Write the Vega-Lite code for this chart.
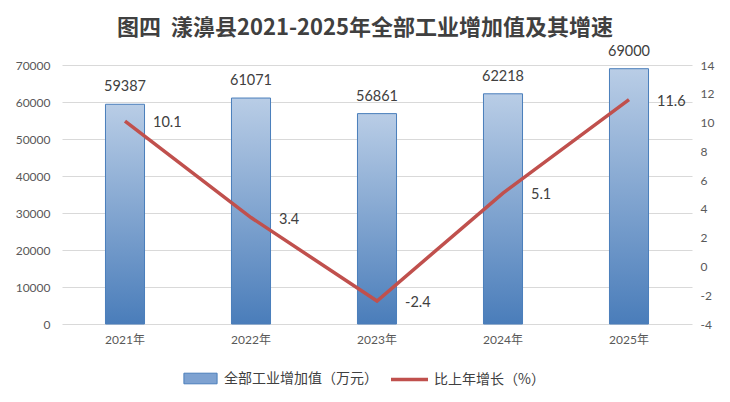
{
  "$schema": "https://vega.github.io/schema/vega-lite/v6.json",
  "width": 630,
  "height": 259,
  "autosize": {"type": "none"},
  "padding": {"left": 62, "top": 65, "right": 38, "bottom": 78},
  "background": "white",
  "config": {"view": {"stroke": null}},
  "title": {
    "text": "图四\u00a0\u00a0漾濞县2021-2025年全部工业增加值及其增速",
    "font": "Noto Sans CJK SC",
    "fontSize": 22,
    "fontWeight": "bold",
    "color": "#404040",
    "anchor": "middle",
    "dx": -12,
    "offset": 4
  },
  "data": {
    "values": [
      {"year": "2021年", "value": 59387, "growth": 10.1},
      {"year": "2022年", "value": 61071, "growth": 3.4},
      {"year": "2023年", "value": 56861, "growth": -2.4},
      {"year": "2024年", "value": 62218, "growth": 5.1},
      {"year": "2025年", "value": 69000, "growth": 11.6}
    ]
  },
  "encoding": {
    "x": {
      "field": "year",
      "type": "nominal",
      "sort": null,
      "scale": {"paddingInner": 0.69, "paddingOuter": 0.345},
      "axis": {
        "title": null,
        "labelAngle": 0,
        "domain": false,
        "ticks": false,
        "grid": false,
        "labelFont": "Lato, Noto Sans CJK SC",
        "labelFontSize": 12,
        "labelColor": "#595959",
        "labelPadding": 10
      }
    }
  },
  "layer": [
    {
      "mark": {
        "type": "bar",
        "fill": {
          "gradient": "linear",
          "x1": 0, "y1": 0, "x2": 0, "y2": 1,
          "stops": [
            {"offset": 0, "color": "#B9CDE6"},
            {"offset": 1, "color": "#4A7DBA"}
          ]
        },
        "stroke": "#4A7EBB",
        "strokeWidth": 1
      },
      "encoding": {
        "y": {
          "field": "value",
          "type": "quantitative",
          "scale": {"domain": [0, 70000]},
          "axis": {
            "title": null,
            "orient": "left",
            "values": [0, 10000, 20000, 30000, 40000, 50000, 60000, 70000],
            "format": "d",
            "labelOverlap": false,
            "domain": false,
            "ticks": false,
            "grid": true,
            "gridColor": "#D9D9D9",
            "gridWidth": 1,
            "gridOpacity": 1,
            "labelFont": "Lato",
            "labelFontSize": 12,
            "labelColor": "#595959",
            "labelPadding": 12
          }
        },
        "color": {
          "datum": "全部工业增加值（万元）",
          "type": "nominal",
          "scale": {
            "domain": ["全部工业增加值（万元）"],
            "range": ["#7EA2D1"]
          },
          "legend": {
            "title": null,
            "orient": "none",
            "direction": "horizontal",
            "legendX": 121,
            "legendY": 296,
            "padding": 0,
            "symbolSize": 1100,
            "symbolType": "M-1,-0.32H1V0.32H-1Z",
            "symbolStrokeWidth": 1,
            "symbolOpacity": 1,
            "labelOffset": 6,
            "labelFont": "Noto Sans CJK SC",
            "labelFontSize": 14,
            "labelColor": "#404040"
          }
        }
      }
    },
    {
      "mark": {
        "type": "text",
        "baseline": "alphabetic",
        "dy": -13,
        "font": "Lato",
        "fontSize": 14.5,
        "color": "#404040"
      },
      "encoding": {
        "y": {"field": "value", "type": "quantitative", "scale": {"domain": [0, 70000]}, "axis": null},
        "text": {"field": "value", "type": "nominal"}
      }
    },
    {
      "mark": {
        "type": "line",
        "strokeWidth": 3.5
      },
      "encoding": {
        "y": {
          "field": "growth",
          "type": "quantitative",
          "scale": {"domain": [-4, 14]},
          "axis": {
            "title": null,
            "orient": "right",
            "values": [-4, -2, 0, 2, 4, 6, 8, 10, 12, 14],
            "labelExpr": "'' + datum.value",
            "labelOverlap": false,
            "domain": false,
            "ticks": false,
            "grid": false,
            "labelFont": "Lato",
            "labelFontSize": 12,
            "labelColor": "#595959",
            "labelPadding": 8
          }
        },
        "stroke": {
          "datum": "比上年增长（%）",
          "type": "nominal",
          "scale": {"domain": ["比上年增长（%）"], "range": ["#C0504D"]},
          "legend": {
            "title": null,
            "orient": "none",
            "direction": "horizontal",
            "legendX": 327,
            "legendY": 294,
            "padding": 0,
            "symbolSize": 1369,
            "symbolType": "stroke",
            "symbolStrokeWidth": 3.5,
            "symbolOpacity": 1,
            "labelOffset": 4,
            "labelFont": "Noto Sans CJK SC",
            "labelFontSize": 14,
            "labelColor": "#404040"
          }
        }
      }
    },
    {
      "mark": {
        "type": "text",
        "align": "left",
        "baseline": "middle",
        "dx": 28,
        "dy": 2,
        "font": "Lato",
        "fontSize": 14.5,
        "color": "#404040"
      },
      "encoding": {
        "y": {"field": "growth", "type": "quantitative", "scale": {"domain": [-4, 14]}, "axis": null},
        "text": {"field": "growth", "type": "nominal"}
      }
    }
  ],
  "resolve": {"scale": {"y": "independent"}}
}
